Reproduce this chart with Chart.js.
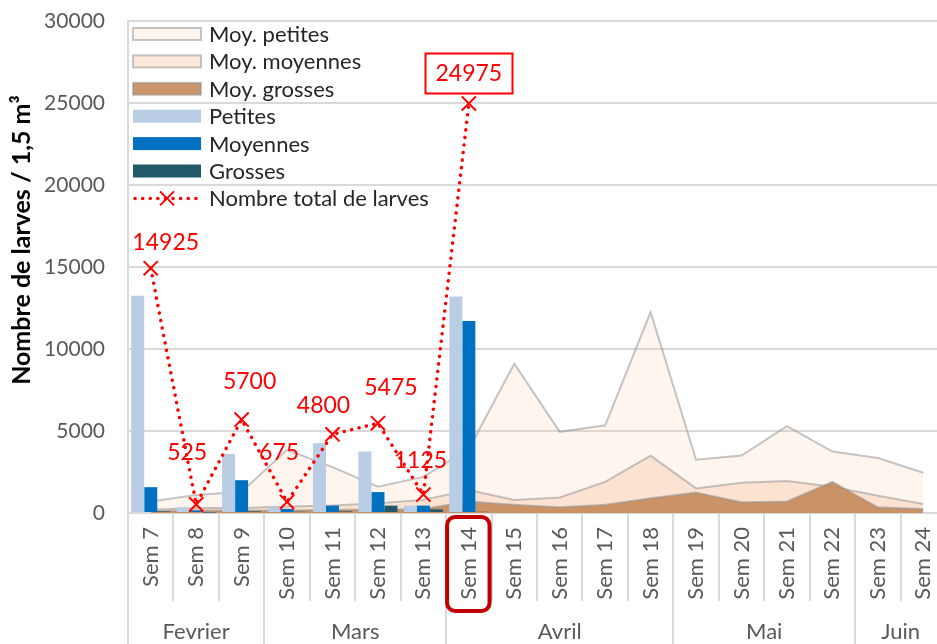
<!DOCTYPE html>
<html lang="fr">
<head>
<meta charset="utf-8">
<title>Nombre de larves</title>
<script src="https://cdn.jsdelivr.net/npm/chart.js@4.4.1/dist/chart.umd.min.js"></script>
<style>
  html, body { margin: 0; padding: 0; background: #fff; overflow: hidden; }
  #wrap { position: relative; width: 960px; height: 644px; }
</style>
</head>
<body>
<div id="wrap"><canvas id="chart" width="960" height="644"></canvas></div>
<script>
  const weeks = ["Sem 7", "Sem 8", "Sem 9", "Sem 10", "Sem 11", "Sem 12", "Sem 13", "Sem 14", "Sem 15",
    "Sem 16", "Sem 17", "Sem 18", "Sem 19", "Sem 20", "Sem 21", "Sem 22", "Sem 23", "Sem 24"];
  const months = ["Fevrier", "Mars", "Avril", "Mai", "Juin"];
  const monthWeeks = [3, 4, 5, 4, 2];
  const yTicks = [0, 5000, 10000, 15000, 20000, 25000, 30000];

  // moyennes (aires)
  const moyPetites = [700, 1100, 1300, 3850, 2800, 1600, 2200, 3900, 9100, 4950, 5350, 12250, 3250, 3500, 5300, 3750, 3350, 2450];
  const moyMoyennes = [200, 300, 300, 400, 450, 600, 800, 1400, 800, 950, 1900, 3500, 1500, 1850, 1950, 1600, 1050, 550];
  const moyGrosses = [100, 150, 150, 150, 200, 200, 250, 700, 500, 350, 500, 900, 1250, 650, 700, 1900, 350, 250];

  // année en cours (barres, Sem 7 -> Sem 14)
  const petites = [13250, 350, 3600, 350, 4250, 3750, 450, 13200];
  const moyennes = [1575, 150, 2000, 250, 450, 1275, 450, 11700];
  const grosses = [100, 25, 100, 75, 100, 450, 225, 75];
  const totalLarves = [14925, 525, 5700, 675, 4800, 5475, 1125, 24975];

  const highlightWeek = "Sem 14";
  // décalage des étiquettes par rapport au point (px)
  const labelNudge = [[15, -26], [-9, -52], [8, -38], [-8, -49], [-9, -29], [13, -36], [-3, -34], [0, -30]];

  const FONT = "Lato, 'Open Sans', sans-serif";
  const GRID = "#D9D9D9";
  const AREA_BORDER = "rgba(150,150,150,0.55)";

  const overlay = {
    id: "overlay",
    afterDraw(chart) {
      const { ctx, chartArea } = chart;
      const x = chart.scales.x;
      const bottom = chartArea.bottom;
      ctx.save();

      // séparateurs de l'axe des catégories
      const edges = [0];
      monthWeeks.forEach((n) => edges.push(edges[edges.length - 1] + n));
      ctx.strokeStyle = GRID;
      ctx.lineWidth = 2;
      for (let i = 0; i <= weeks.length; i++) {
        const px = Math.round(x.getPixelForValue(i - 0.5));
        ctx.beginPath();
        ctx.moveTo(px, bottom);
        ctx.lineTo(px, edges.includes(i) ? chart.height : bottom + 88);
        ctx.stroke();
      }

      // mois
      ctx.fillStyle = "#595959";
      ctx.font = "22px " + FONT;
      ctx.textAlign = "center";
      ctx.textBaseline = "middle";
      months.forEach((m, k) => {
        const a = x.getPixelForValue(edges[k] - 0.5);
        const b = x.getPixelForValue(edges[k + 1] - 0.5);
        ctx.fillText(m, (a + b) / 2, bottom + 119);
      });

      // cadre Sem 14
      const hi = weeks.indexOf(highlightWeek);
      if (hi >= 0) {
        const a = x.getPixelForValue(hi - 0.5);
        const b = x.getPixelForValue(hi + 0.5);
        ctx.strokeStyle = "#C00000";
        ctx.lineWidth = 4;
        ctx.beginPath();
        ctx.roundRect(a + 1, bottom + 4, b - a - 3, 94, 8);
        ctx.stroke();
      }

      // étiquettes du total
      const tIdx = chart.data.datasets.findIndex((d) => d.id === "total");
      const meta = chart.getDatasetMeta(tIdx);
      ctx.font = "23px " + FONT;
      ctx.fillStyle = "#FF0000";
      meta.data.forEach((pt, i) => {
        const v = totalLarves[i];
        if (v == null) return;
        const [dx, dy] = labelNudge[i] || [0, -30];
        const lx = pt.x + dx, ly = pt.y + dy;
        ctx.fillText(String(v), lx, ly);
        if (weeks[i] === highlightWeek) {
          const w = ctx.measureText(String(v)).width + 20;
          ctx.strokeStyle = "#FF0000";
          ctx.lineWidth = 2;
          ctx.strokeRect(Math.round(lx - w / 2) + 0.5, Math.round(ly - 20) + 0.5, Math.round(w), 40);
        }
      });

      // titre de l'axe Y
      ctx.save();
      ctx.translate(22, 240);
      ctx.rotate(-Math.PI / 2);
      ctx.fillStyle = "#000";
      ctx.font = "bold 25px " + FONT;
      ctx.fillText("Nombre de larves / 1,5 m³", 0, 0);
      ctx.restore();

      // légende
      const lx0 = 133, sw = 68, top = 34, step = 27.4;
      ctx.textAlign = "left";
      ctx.font = "22px " + FONT;
      chart.data.datasets.forEach((ds, k) => {
        const cy = top + k * step;
        if (ds.type === "line" && ds.id === "total") {
          ctx.strokeStyle = ds.borderColor;
          ctx.lineWidth = 3.5;
          ctx.lineCap = "round";
          ctx.setLineDash([0.1, 7.5]);
          ctx.beginPath();
          ctx.moveTo(lx0 + 2, cy);
          ctx.lineTo(lx0 + sw, cy);
          ctx.stroke();
          ctx.setLineDash([]);
          ctx.lineWidth = 2;
          ctx.lineCap = "butt";
          const r = 7;
          ctx.beginPath();
          ctx.moveTo(lx0 + sw / 2 - r, cy - r);
          ctx.lineTo(lx0 + sw / 2 + r, cy + r);
          ctx.moveTo(lx0 + sw / 2 + r, cy - r);
          ctx.lineTo(lx0 + sw / 2 - r, cy + r);
          ctx.stroke();
        } else if (ds.type === "line") {
          ctx.fillStyle = "#fff";
          ctx.fillRect(lx0, cy - 6, sw, 12);
          ctx.fillStyle = ds.backgroundColor;
          ctx.fillRect(lx0, cy - 6, sw, 12);
          ctx.strokeStyle = AREA_BORDER;
          ctx.lineWidth = 2;
          ctx.strokeRect(lx0, cy - 6, sw, 12);
        } else {
          ctx.fillStyle = ds.backgroundColor;
          ctx.fillRect(lx0, cy - 6.5, sw, 13);
        }
        ctx.fillStyle = "#262626";
        ctx.fillText(ds.label, lx0 + 76, cy + 1);
      });

      ctx.restore();
    },
  };

  function areaSet(label, data, color, order) {
    return {
      type: "line", label, data, order,
      backgroundColor: color, borderColor: AREA_BORDER, borderWidth: 2,
      fill: "origin", pointRadius: 0, tension: 0,
    };
  }

  function barSet(label, data, color) {
    return {
      type: "bar", label, data, order: 1,
      backgroundColor: color, barPercentage: 1, categoryPercentage: 0.86,
    };
  }

  function draw() {
    new Chart(document.getElementById("chart"), {
      data: {
        labels: weeks,
        datasets: [
          areaSet("Moy. petites", moyPetites, "rgba(248,203,173,0.2)", 4),
          areaSet("Moy. moyennes", moyMoyennes, "rgba(248,203,173,0.45)", 3),
          areaSet("Moy. grosses", moyGrosses, "rgba(196,137,90,0.9)", 2),
          barSet("Petites", petites, "#B9CDE5"),
          barSet("Moyennes", moyennes, "#0070C0"),
          barSet("Grosses", grosses, "#215968"),
          {
            type: "line", id: "total", label: "Nombre total de larves", data: totalLarves, order: 0,
            borderColor: "#FF0000", borderWidth: 3.5, borderDash: [0.1, 7.5], borderCapStyle: "round",
            fill: false, tension: 0,
            pointStyle: "crossRot", pointRadius: 10, pointBorderWidth: 2,
            pointBorderColor: "#FF0000", pointBackgroundColor: "#FF0000",
          },
        ],
      },
      options: {
        responsive: false,
        animation: false,
        layout: { padding: { top: 21, right: 14, bottom: 0, left: 0 } },
        plugins: { legend: { display: false }, tooltip: { enabled: false } },
        scales: {
          x: {
            grid: { display: false, drawTicks: false },
            border: { display: false },
            ticks: {
              autoSkip: false, minRotation: 90, maxRotation: 90, padding: 14,
              color: "#595959", font: { family: FONT, size: 22 },
            },
            afterFit: (s) => { s.height = 131; s.paddingLeft = 0; s.paddingRight = 0; },
          },
          y: {
            min: yTicks[0], max: yTicks[yTicks.length - 1],
            afterBuildTicks: (s) => { s.ticks = yTicks.map((v) => ({ value: v })); },
            grid: { color: GRID, lineWidth: 2, drawTicks: false },
            border: { color: GRID, width: 2 },
            ticks: {
              padding: 23, color: "#595959", font: { family: FONT, size: 21 },
              callback: (v) => String(v),
            },
            afterFit: (s) => { s.width = 128; s.paddingTop = 0; s.paddingBottom = 0; },
          },
        },
      },
      plugins: [overlay],
    });
  }

  if (document.fonts && document.fonts.load) {
    Promise.all([document.fonts.load("21px Lato"), document.fonts.load("bold 25px Lato")])
      .then(draw, draw);
  } else {
    draw();
  }
</script>
</body>
</html>
